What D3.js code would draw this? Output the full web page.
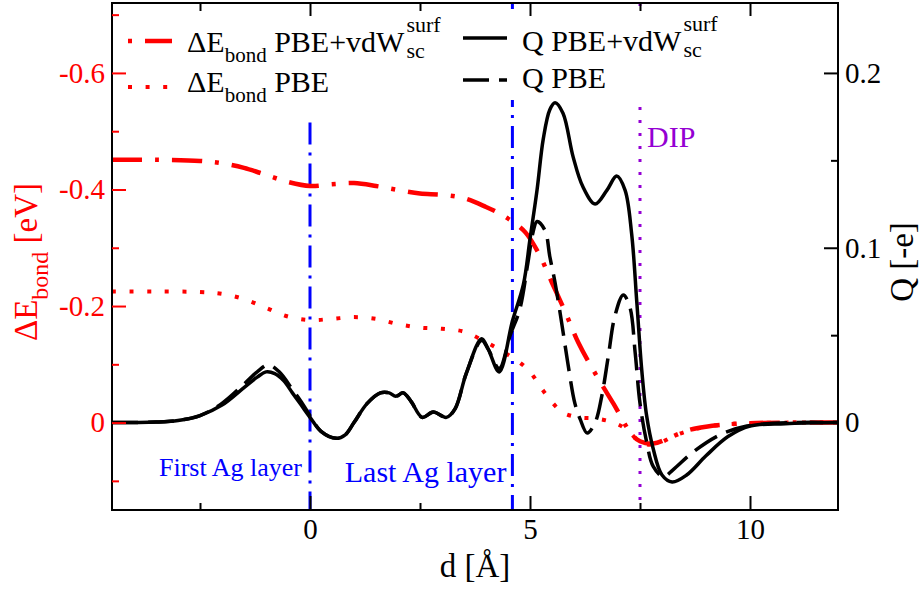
<!DOCTYPE html>
<html>
<head>
<meta charset="utf-8">
<script src="https://cdnjs.cloudflare.com/ajax/libs/d3/7.8.5/d3.min.js"></script>
<style>
  html, body { margin: 0; padding: 0; background: #fff; }
  svg { display: block; font-family: "Liberation Serif", "Times New Roman", serif; }
</style>
</head>
<body>
<div id="chart"></div>
<script>
// ---------- DATA ----------

// ΔE_bond PBE+vdW^surf_sc  (left axis, eV)
const ebondVdwD = [-4.5, -3.5, -2.5, -2.0, -1.5, -1.0, -0.5, 0, 0.5, 1.0, 1.5, 2.0, 2.5, 3.0, 3.5, 4.0, 4.3, 4.6, 4.9, 5.2, 5.5, 5.8, 6.1, 6.5, 6.9, 7.3, 7.5, 7.8, 8.2, 8.6, 9.0, 9.5, 10, 11, 12];
const ebondVdwE = [-0.451, -0.451, -0.449, -0.445, -0.437, -0.425, -0.413, -0.406, -0.409, -0.411, -0.406, -0.399, -0.393, -0.391, -0.385, -0.370, -0.359, -0.345, -0.326, -0.290, -0.240, -0.190, -0.137, -0.082, -0.032, 0.019, 0.032, 0.036, 0.025, 0.013, 0.007, 0.003, 0.001, 0, 0];

// ΔE_bond PBE
const ebondPbeD = [-4.5, -3.5, -2.5, -2.0, -1.5, -1.0, -0.5, 0, 0.5, 1.0, 1.5, 2.0, 2.5, 3.0, 3.5, 4.0, 4.4, 4.75, 5.0, 5.25, 5.5, 5.75, 6.1, 6.5, 6.9, 7.2, 7.55, 7.9, 8.3, 8.7, 9.2, 10, 11, 12];
const ebondPbeE = [-0.225, -0.225, -0.224, -0.221, -0.212, -0.197, -0.182, -0.176, -0.178, -0.181, -0.178, -0.169, -0.163, -0.161, -0.156, -0.138, -0.121, -0.104, -0.087, -0.060, -0.035, -0.017, -0.009, -0.007, 0.000, 0.012, 0.036, 0.036, 0.022, 0.012, 0.005, 0.001, 0, 0];

// Q PBE+vdW^surf_sc  (right axis, -e)
const qVdwD = [-4.5, -3.5, -3.0, -2.5, -2.0, -1.5, -1.2, -1.0, -0.8, -0.6, -0.4, -0.2, 0, 0.25, 0.6, 0.8, 1.0, 1.3, 1.6, 1.8, 1.95, 2.12, 2.3, 2.55, 2.8, 3.1, 3.3, 3.55, 3.9, 4.05, 4.3, 4.6, 4.85, 5.0, 5.16, 5.3, 5.45, 5.57, 5.75, 5.98, 6.2, 6.48, 6.75, 6.97, 7.16, 7.31, 7.43, 7.54, 7.65, 7.8, 8.0, 8.23, 8.56, 9.0, 9.5, 10.0, 10.8, 12];
const qVdw = [0, 0.0003, 0.0012, 0.004, 0.010, 0.020, 0.026, 0.029, 0.028, 0.024, 0.017, 0.010, 0.003, -0.005, -0.009, -0.007, 0.000, 0.011, 0.017, 0.017, 0.015, 0.017, 0.012, 0.003, 0.006, 0.003, 0.008, 0.028, 0.048, 0.042, 0.029, 0.058, 0.079, 0.105, 0.133, 0.162, 0.179, 0.183, 0.177, 0.152, 0.135, 0.125, 0.133, 0.141, 0.133, 0.108, 0.068, 0.030, 0.004, -0.015, -0.030, -0.034, -0.030, -0.019, -0.008, -0.002, -0.0006, 0];

// Q PBE
const qPbeD = [-4.5, -3.5, -3.0, -2.5, -2.0, -1.5, -1.2, -0.95, -0.7, -0.4, -0.2, 0, 0.25, 0.6, 0.8, 1.0, 1.3, 1.6, 1.8, 1.95, 2.12, 2.3, 2.55, 2.8, 3.1, 3.3, 3.55, 3.9, 4.05, 4.3, 4.55, 4.77, 4.95, 5.07, 5.16, 5.34, 5.45, 5.57, 5.72, 5.86, 6.02, 6.14, 6.3, 6.48, 6.63, 6.78, 6.93, 7.12, 7.27, 7.39, 7.5, 7.65, 7.8, 8.03, 8.25, 8.7, 9.32, 9.93, 11, 12];
const qPbe = [0, 0.0003, 0.0012, 0.004, 0.011, 0.022, 0.029, 0.033, 0.029, 0.019, 0.012, 0.004, -0.005, -0.009, -0.007, 0.000, 0.011, 0.017, 0.017, 0.015, 0.017, 0.012, 0.003, 0.006, 0.003, 0.008, 0.028, 0.047, 0.042, 0.031, 0.050, 0.065, 0.091, 0.109, 0.115, 0.110, 0.095, 0.080, 0.057, 0.034, 0.011, 0.002, -0.006, 0.000, 0.015, 0.038, 0.061, 0.073, 0.066, 0.040, 0.011, -0.011, -0.025, -0.031, -0.027, -0.017, -0.007, -0.002, 0, 0];

// vertical marker lines (d position, top end in eV units)
const markerD = [0, 4.6, 7.5];
const markerTopE = [-0.515, -0.72, -0.72];

// ticks
const xMajorTicks = [0, 5, 10];
const xMinorTicks = [-2.5, 2.5, 7.5];
const eMajorTicks = [-0.6, -0.4, -0.2, 0];
const eMinorTicks = [-0.7, -0.5, -0.3, -0.1, 0.1];
const qMajorTicks = [0, 0.1, 0.2];
const qMinorTicks = [0.05, 0.15];

(function () {
  "use strict";

  const W = 922, H = 590;
  const plot = { left: 112, right: 838, top: 3, bottom: 510 };
  const RED = "#ff0000", BLUE = "#0000ff", PURPLE = "#9400d3";

  const svg = d3.select("#chart").append("svg")
    .attr("width", W).attr("height", H);

  const x = d3.scaleLinear().domain([-4.5, 12]).range([plot.left, plot.right]);
  const yE = d3.scaleLinear().domain([-0.72, 0.15]).range([plot.top, plot.bottom]);
  const yQ = d3.scaleLinear().domain([0.24, -0.05]).range([plot.top, plot.bottom]);

  svg.append("clipPath").attr("id", "clip")
    .append("rect")
    .attr("x", plot.left).attr("y", plot.top)
    .attr("width", plot.right - plot.left).attr("height", plot.bottom - plot.top);

  const g = svg.append("g").attr("clip-path", "url(#clip)");

  // ---------- vertical marker lines ----------
  const markerStyle = [
    { color: BLUE, dash: "22,8,3,8" },
    { color: BLUE, dash: "22,8,3,8" },
    { color: PURPLE, dash: "3,10" },
  ];
  markerD.forEach((d, i) => {
    g.append("line")
      .attr("x1", x(d)).attr("x2", x(d))
      .attr("y1", yE(markerTopE[i])).attr("y2", plot.bottom)
      .attr("stroke", markerStyle[i].color)
      .attr("stroke-width", 3)
      .attr("stroke-dasharray", markerStyle[i].dash);
  });

  // ---------- curves ----------
  const curve = d3.curveCatmullRom.alpha(0.5);

  function drawSeries(ds, vs, yScale, color, width, dash) {
    const pts = ds.map((d, i) => [d, vs[i]]);
    const line = d3.line()
      .x((p) => x(p[0]))
      .y((p) => yScale(p[1]))
      .curve(curve);
    g.append("path")
      .datum(pts)
      .attr("d", line)
      .attr("fill", "none")
      .attr("stroke", color)
      .attr("stroke-width", width)
      .attr("stroke-dasharray", dash);
  }

  drawSeries(ebondVdwD, ebondVdwE, yE, RED, 4.5, "30,13,4,13");
  drawSeries(ebondPbeD, ebondPbeE, yE, RED, 4, "4,13.6");
  drawSeries(qPbeD, qPbe, yQ, "#000", 3.5, "26,10");
  drawSeries(qVdwD, qVdw, yQ, "#000", 3.5, null);

  // ---------- annotations ----------
  g.append("text")
    .attr("x", x(0) - 8).attr("y", yE(0.092))
    .attr("text-anchor", "end")
    .attr("fill", BLUE).attr("font-size", 26)
    .text("First Ag layer");

  g.append("text")
    .attr("x", x(4.6) - 6).attr("y", yE(0.102))
    .attr("text-anchor", "end")
    .attr("fill", BLUE).attr("font-size", 30)
    .text("Last Ag layer");

  g.append("text")
    .attr("x", x(7.5) + 7).attr("y", yE(-0.473))
    .attr("fill", PURPLE).attr("font-size", 30)
    .text("DIP");

  // ---------- legend ----------
  const legend = svg.append("g").attr("class", "legend");
  legend.append("rect")
    .attr("x", 116).attr("y", 9)
    .attr("width", 610).attr("height", 91)
    .attr("fill", "#fff");

  const legendItems = [
    { lx: 128, ly: 41, tx: 187, ty: 52, color: RED, w: 4.5, dash: "30,13,4,13", off: 43, prefix: "ΔE", sub: "bond", main: " PBE+vdW", stack: true },
    { lx: 128, ly: 87, tx: 187, ty: 92, color: RED, w: 4, dash: "4,13.6", off: 0, prefix: "ΔE", sub: "bond", main: " PBE", stack: false },
    { lx: 463, ly: 38, tx: 522, ty: 51, color: "#000", w: 3.5, dash: null, off: 0, prefix: "Q PBE+vdW", sub: null, main: "", stack: true },
    { lx: 463, ly: 80, tx: 522, ty: 88, color: "#000", w: 3.5, dash: "26,10", off: 0, prefix: "Q PBE", sub: null, main: "", stack: false },
  ];

  legendItems.forEach((it) => {
    legend.append("line")
      .attr("x1", it.lx).attr("x2", it.lx + 44)
      .attr("y1", it.ly).attr("y2", it.ly)
      .attr("stroke", it.color)
      .attr("stroke-width", it.w)
      .attr("stroke-dasharray", it.dash)
      .attr("stroke-dashoffset", it.off);

    const t = legend.append("text")
      .attr("x", it.tx).attr("y", it.ty)
      .attr("font-size", 30).attr("fill", "#000");
    t.append("tspan").text(it.prefix);
    if (it.sub) {
      t.append("tspan").attr("dy", 10).attr("font-size", 21).text(it.sub);
      t.append("tspan").attr("dy", -10).text(it.main);
    }
    if (it.stack) {
      const end = it.tx + t.node().getComputedTextLength() + 2;
      legend.append("text")
        .attr("x", end).attr("y", it.ty - 20)
        .attr("font-size", 22).text("surf");
      legend.append("text")
        .attr("x", end).attr("y", it.ty + 6)
        .attr("font-size", 22).text("sc");
    }
  });

  // ---------- frame ----------
  svg.append("rect")
    .attr("x", plot.left).attr("y", plot.top)
    .attr("width", plot.right - plot.left).attr("height", plot.bottom - plot.top)
    .attr("fill", "none").attr("stroke", "#000").attr("stroke-width", 2);

  // ---------- axes ----------
  function styleAxis(sel, color) {
    sel.select(".domain").remove();
    sel.selectAll("line").attr("stroke", color).attr("stroke-width", 2);
    sel.selectAll("text").attr("fill", color).attr("font-size", 29)
      .attr("font-family", "Liberation Serif, Times New Roman, serif");
  }
  const fmtE = (d) => (d === 0 ? "0" : d.toFixed(1).replace("−", "-"));
  const fmtQ = (d) => (d === 0 ? "0" : d.toFixed(1));

  // bottom
  const gb = svg.append("g").attr("transform", `translate(0,${plot.bottom})`);
  gb.append("g").call(d3.axisBottom(x).tickValues(xMajorTicks).tickSize(-14).tickPadding(8).tickFormat(d3.format("d")))
    .call((s) => styleAxis(s, "#000"));
  gb.append("g").call(d3.axisBottom(x).tickValues(xMinorTicks).tickSize(-7).tickFormat(""))
    .call((s) => styleAxis(s, "#000"));

  // top
  const gt = svg.append("g").attr("transform", `translate(0,${plot.top})`);
  gt.append("g").call(d3.axisTop(x).tickValues(xMajorTicks).tickSize(-13).tickFormat(""))
    .call((s) => styleAxis(s, "#000"));
  gt.append("g").call(d3.axisTop(x).tickValues(xMinorTicks).tickSize(-8).tickFormat(""))
    .call((s) => styleAxis(s, "#000"));

  // left (ΔE)
  const gl = svg.append("g").attr("transform", `translate(${plot.left},0)`);
  gl.append("g").call(d3.axisLeft(yE).tickValues(eMajorTicks).tickSize(-14).tickPadding(7).tickFormat(fmtE))
    .call((s) => styleAxis(s, RED));
  gl.append("g").call(d3.axisLeft(yE).tickValues(eMinorTicks).tickSize(-7).tickFormat(""))
    .call((s) => styleAxis(s, RED));

  // right (Q)
  const gr = svg.append("g").attr("transform", `translate(${plot.right},0)`);
  gr.append("g").call(d3.axisRight(yQ).tickValues(qMajorTicks).tickSize(-14).tickPadding(7).tickFormat(fmtQ))
    .call((s) => styleAxis(s, "#000"));
  gr.append("g").call(d3.axisRight(yQ).tickValues(qMinorTicks).tickSize(-7).tickFormat(""))
    .call((s) => styleAxis(s, "#000"));

  // ---------- axis titles ----------
  svg.append("text")
    .attr("x", (plot.left + plot.right) / 2).attr("y", 577)
    .attr("text-anchor", "middle").attr("font-size", 33)
    .text("d [Å]");

  const lt = svg.append("text")
    .attr("transform", "translate(37,262) rotate(-90)")
    .attr("text-anchor", "middle").attr("font-size", 33)
    .attr("fill", RED);
  lt.append("tspan").text("ΔE");
  lt.append("tspan").attr("dy", 11).attr("font-size", 24).text("bond");
  lt.append("tspan").attr("dy", -11).text(" [eV]");

  svg.append("text")
    .attr("transform", "translate(913,262) rotate(-90)")
    .attr("text-anchor", "middle").attr("font-size", 33)
    .text("Q [-e]");
})();
</script>
</body>
</html>
